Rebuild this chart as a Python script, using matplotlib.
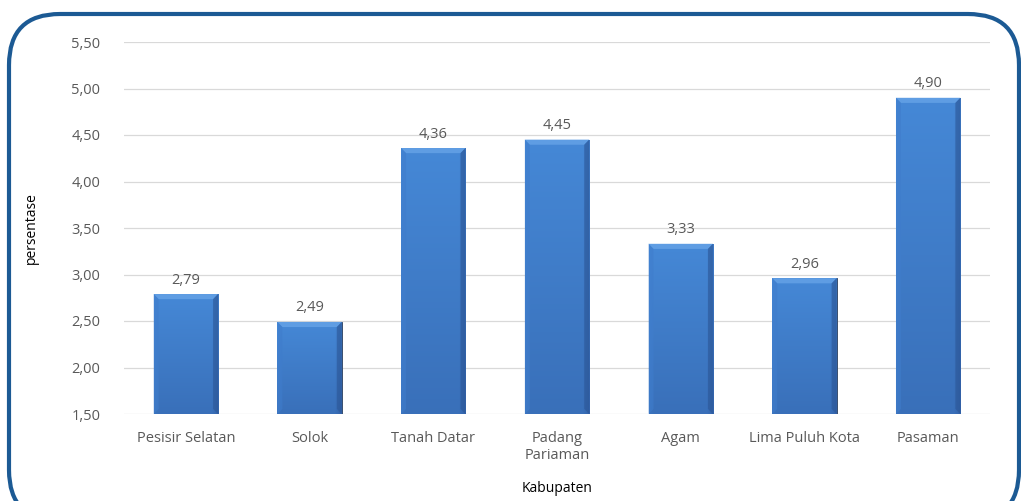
import numpy as np
import matplotlib.pyplot as plt
from matplotlib.patches import FancyBboxPatch

kabupaten = ['Pesisir Selatan', 'Solok', 'Tanah Datar', 'Padang\nPariaman',
             'Agam', 'Lima Puluh Kota', 'Pasaman']
persentase = [2.79, 2.49, 4.36, 4.45, 3.33, 2.96, 4.90]
yticks = [1.5, 2.0, 2.5, 3.0, 3.5, 4.0, 4.5, 5.0, 5.5]

plt.rcParams['font.family'] = ['Open Sans', 'DejaVu Sans']

W, H = 1021, 501
fig = plt.figure(figsize=(W / 100, H / 100), dpi=100)
ax = fig.add_axes([124 / W, 1 - 414 / H, 866 / W, 372 / H])

x = np.arange(len(kabupaten))
bw = 0.52
bars = ax.bar(x, persentase, bottom=0, width=bw, color='#3b77c4',
              edgecolor='#3a4f6e', linewidth=0.7, zorder=2)

# shaded fill for each bar: lighter top, darker bottom and right edge
cols = np.linspace(0, 1, 60)
rows = np.linspace(0, 1, 200)
cx, ry = np.meshgrid(cols, rows)
light = np.array([0.28, 0.55, 0.86])
dark = np.array([0.20, 0.39, 0.67])
t = 0.1 + 0.6 * ry + 0.35 * np.clip((cx - 0.9) / 0.1, 0, 1)
t -= 0.1 * np.clip((0.07 - cx) / 0.07, 0, 1)
t = np.clip(t, 0, 1)
img = light[None, None, :] * (1 - t[..., None]) + dark[None, None, :] * t[..., None]

dx, dy = 0.04, 0.055  # bevel size in data units
for b, v in zip(bars, persentase):
    x0, x1 = b.get_x(), b.get_x() + bw
    im = ax.imshow(img, extent=(x0, x1, 1.5, v), origin='upper',
                   aspect='auto', zorder=2.1, interpolation='bilinear')
    im.set_clip_path(b)
    # top bevel
    ax.fill([x0, x1, x1 - dx, x0 + dx], [v, v, v - dy, v - dy],
            color='#5f9de3', zorder=2.2, linewidth=0)
    # side bevels
    ax.fill([x0, x0 + dx, x0 + dx, x0], [v, v - dy, 1.5 + dy, 1.5],
            color='#3f7ccb', alpha=0.6, zorder=2.2, linewidth=0)
    ax.fill([x1, x1 - dx, x1 - dx, x1], [v, v - dy, 1.5 + dy, 1.5],
            color='#2c5797', alpha=0.6, zorder=2.2, linewidth=0)
    ax.text((x0 + x1) / 2, v + 0.07, f'{v:.2f}'.replace('.', ','),
            ha='center', va='bottom', fontsize=10.5, color='#595959')

ax.set_ylim(1.5, 5.5)
ax.set_xlim(-0.5, len(kabupaten) - 0.5)
ax.set_yticks(yticks)
ax.set_yticklabels([f'{v:.2f}'.replace('.', ',') for v in yticks])
ax.set_xticks(x)
ax.set_xticklabels(kabupaten, linespacing=1.25)
ax.tick_params(axis='both', length=0, labelsize=10.5, labelcolor='#595959')
ax.tick_params(axis='x', pad=12)
ax.tick_params(axis='y', pad=17)
ax.grid(axis='y', color='#d9d9d9', linewidth=0.9, zorder=0)
ax.set_axisbelow(True)
for s in ax.spines.values():
    s.set_visible(False)
ax.set_ylabel('persentase', fontsize=10, color='black', labelpad=23)
ax.set_xlabel('Kabupaten', fontsize=10, color='black', labelpad=13)

# rounded outer frame
frame = FancyBboxPatch((9 / W, -20 / H), (1019 - 9) / W, (H - 14 + 20) / H,
                       boxstyle='round,pad=0,rounding_size=0.05',
                       transform=fig.transFigure, facecolor='none',
                       edgecolor='#1c5a94', linewidth=3, mutation_aspect=W / H)
fig.patches.append(frame)

fig.savefig('out.png', dpi=100)
